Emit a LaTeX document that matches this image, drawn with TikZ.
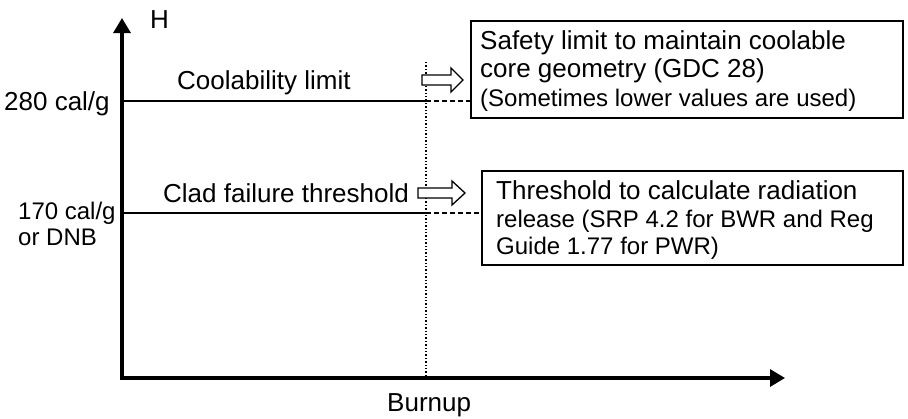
\documentclass[tikz,border=0pt]{standalone}
\usepackage{fontspec}
\setmainfont{Liberation Sans}
\usetikzlibrary{arrows.meta}
\begin{document}
\begin{tikzpicture}[x=1pt,y=-1pt,
  axis/.style={line width=3.2pt,-{Triangle[length=15pt,width=17pt]}},
  limitline/.style={line width=2.8pt},
  guide/.style={line width=1.4pt,dotted},
  leader/.style={line width=1.4pt,dashed,dash pattern=on 5pt off 3pt},
  infobox/.style={draw,line width=1.3pt},
  big/.style={font=\fontsize{26}{30}\selectfont},
  small/.style={font=\fontsize{24}{28}\selectfont},
  txt/.style={anchor=base west,inner sep=0pt},
  hollow/.style={draw,line width=1.3pt,fill=white}]
\useasboundingbox (0,0) rectangle (908,418);
% axes
\coordinate (O) at (122,378);
\coordinate (ytip) at (122,18);
\coordinate (xtip) at (785,378);
\draw[axis] (O) -- (ytip);
\draw[axis] (120.4,378) -- (xtip);
\node[txt,font=\fontsize{26}{30}\selectfont] (H) at (150,28) {H};
\node[txt,font=\fontsize{26}{30}\selectfont] (bu) at (387,411) {Burnup};
% vertical dotted guide
\coordinate (gtop) at (426,62);
\coordinate (gbot) at (426,378);
\draw[guide] (gtop) -- (gbot);
% 280 line
\coordinate (a1) at (122,101);
\coordinate (a2) at (426,101);
\coordinate (a3) at (471,101);
\draw[limitline] (a1) -- (a2);
\draw[leader] (a2) -- (a3);
% 170 line
\coordinate (b1) at (122,213);
\coordinate (b2) at (426,213);
\coordinate (b3) at (482,213);
\draw[limitline] (b1) -- (b2);
\draw[leader] (b2) -- (b3);
% y labels
\node[txt,big] (l280) at (4,110) {280 cal/g};
\node[txt,small] (l170) at (18,219) {170 cal/g};
\node[txt,small] (ldnb) at (18,245) {or DNB};
% line labels
\node[txt,big] (cool) at (177,89) {Coolability limit};
\node[txt,big] (clad) at (163,202) {Clad failure threshold};
% hollow arrows
\draw[hollow] (422,75) -- (451,75) -- (451,68) -- (463,80) -- (451,92) -- (451,85) -- (422,85) -- cycle;
\draw[hollow] (418,188) -- (452,188) -- (452,181) -- (465,193) -- (452,205) -- (452,198) -- (418,198) -- cycle;
% boxes
\draw[infobox] (471,21) rectangle (903,118);
\node[txt,big] (s1) at (480,49) {Safety limit to maintain coolable};
\node[txt,big] (s2) at (480,77) {core geometry (GDC 28)};
\node[txt,small] (s3) at (480,106) {(Sometimes lower values are used)};
\draw[infobox] (482,171) rectangle (903,265);
\node[txt,big] (t1) at (496,199) {Threshold to calculate radiation};
\node[txt,small] (t2) at (496,227) {release (SRP 4.2 for BWR and Reg};
\node[txt,small] (t3) at (496,254) {Guide 1.77 for PWR)};
\end{tikzpicture}
\end{document}
